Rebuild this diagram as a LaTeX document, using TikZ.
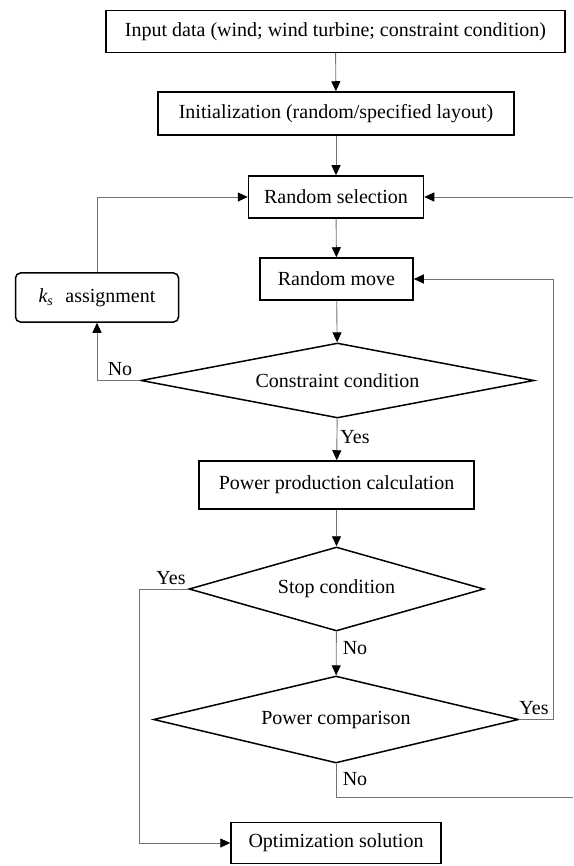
\documentclass[tikz,border=0pt]{standalone}
\usepackage{fontspec}
\setmainfont{Liberation Serif}
\usetikzlibrary{shapes.geometric,arrows.meta}
\begin{document}
\begin{tikzpicture}[x=1pt,y=-1pt,
  txt/.style={font=\fontsize{20}{24}\selectfont},
  box/.style={txt,draw=black,line width=1.5pt,inner sep=0pt,rectangle},
  dia/.style={txt,draw=black,line width=1.5pt,inner sep=0pt,diamond},
  conn/.style={draw=black!55,line width=0.9pt},
  arr/.style={conn,-{Triangle[length=10pt,width=9pt,color=black]}},
  lbl/.style={txt,inner sep=0pt}]
\useasboundingbox (0,0) rectangle (573,866);
\node[box,minimum width=459pt,minimum height=42pt] (in) at (335.5,31.5) {Input data (wind; wind turbine; constraint condition)};
\node[box,minimum width=356pt,minimum height=43pt] (init) at (336,113.5) {Initialization (random/specified layout)};
\node[box,minimum width=175pt,minimum height=42pt] (sel) at (336,197) {Random selection};
\node[box,minimum width=153pt,minimum height=42pt] (move) at (336.5,279) {Random move};
\node[box,rounded corners=5pt,minimum width=163pt,minimum height=49pt] (ks) at (97,297.5) {{\itshape k}\textsubscript{\itshape s}\hspace{12pt}assignment};
\node[dia,aspect=5.2,minimum width=393pt,minimum height=75pt] (cons) at (337.5,380.5) {Constraint condition};
\node[box,minimum width=275pt,minimum height=48pt] (calc) at (336.5,485) {Power production calculation};
\node[dia,aspect=3.5,minimum width=295pt,minimum height=84pt] (stop) at (336.5,589) {Stop condition};
\node[dia,aspect=4.2,minimum width=365pt,minimum height=87pt] (comp) at (336,719.5) {Power comparison};
\node[box,minimum width=210pt,minimum height=41pt] (opt) at (336,843) {Optimization solution};
% right-edge coordinates
\coordinate (eTop) at (573,197);
\coordinate (eBot) at (573,797);
% main flow
\draw[arr] (in) -- (init);
\draw[arr] (init) -- (sel);
\draw[arr] (sel) -- (move);
\draw[arr] (move) -- (cons);
\draw[arr] (cons) -- (calc);
\draw[arr] (calc) -- (stop);
\draw[arr] (stop) -- (comp);
% loops
\draw[arr] (ks.north) |- (sel.west);
\draw[arr] (cons.west) -| (ks.south);
\draw[arr] (stop.west) -- ++(-49,0) |- (opt.west);
\draw[arr] (comp.east) -- ++(34,0) |- (move.east);
\draw[conn] (comp.south) |- (eBot);
\draw[arr] (eTop) -- (sel.east);
% labels
\node[lbl] (l1) at (120,369) {No};
\node[lbl] (l2) at (355,437) {Yes};
\node[lbl] (l3) at (171,578) {Yes};
\node[lbl] (l4) at (355,648) {No};
\node[lbl] (l5) at (534,708) {Yes};
\node[lbl] (l6) at (355,779) {No};
\end{tikzpicture}
\end{document}
